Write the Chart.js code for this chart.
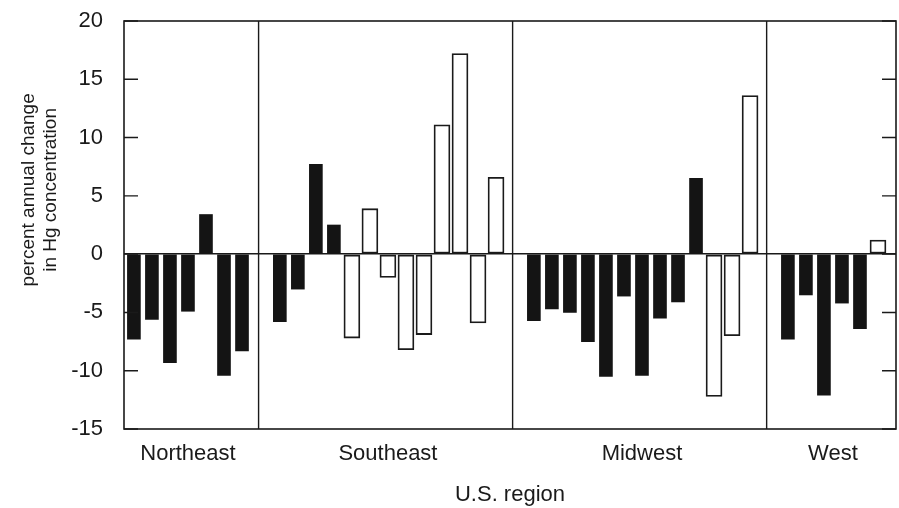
<!DOCTYPE html>
<html><head><meta charset="utf-8">
<script src="https://cdn.jsdelivr.net/npm/chart.js@4/dist/chart.umd.min.js"></script>
<style>html,body{margin:0;padding:0;background:#fff}</style>
</head><body>
<canvas id="c" width="899" height="508"></canvas>
<script>
// ---- data ----
const regions = ['Northeast', 'Southeast', 'Midwest', 'West'];
const neValues = [-7.3, -5.6, -9.3, -4.9, 3.4, -10.4, -8.3];
const neOpen   = [0, 0, 0, 0, 0, 0, 0];
const seValues = [-5.8, -3.0, 7.7, 2.5, -7.2, 3.9, -2.0, -8.2, -6.9, 11.1, 17.2, -5.9, 6.6];
const seOpen   = [0, 0, 0, 0, 1, 1, 1, 1, 1, 1, 1, 1, 1];
const mwValues = [-5.7, -4.7, -5.0, -7.5, -10.5, -3.6, -10.4, -5.5, -4.1, 6.5, -12.2, -7.0, 13.6];
const mwOpen   = [0, 0, 0, 0, 0, 0, 0, 0, 0, 0, 1, 1, 1];
const wValues  = [-7.3, -3.5, -12.1, -4.2, -6.4, 1.2];
const wOpen    = [0, 0, 0, 0, 0, 1];
const yTicks = [-15, -10, -5, 0, 5, 10, 15, 20];
const yTitleLines = ['percent annual change', 'in Hg concentration'];
const xTitle = 'U.S. region';

// ---- build bar series on an index axis (site order with a gap between regions) ----
const GAP = 2.1, SEP_OFFSET = 0.92;
const groups = [
  {values: neValues, open: neOpen},
  {values: seValues, open: seOpen},
  {values: mwValues, open: mwOpen},
  {values: wValues, open: wOpen}
];
const filledPts = [], openPts = [], centers = [], seps = [];
let xi = 0;
groups.forEach((g, gi) => {
  if (gi > 0) { seps.push(xi - 1 + SEP_OFFSET); xi += GAP - 1; }
  const start = xi;
  g.values.forEach((v, i) => { (g.open[i] ? openPts : filledPts).push({x: xi, y: v}); xi += 1; });
  centers.push((start + xi - 1) / 2);
});
const xMin = -0.55, xMax = xi;

const FONT = '"Liberation Sans", Arial, Helvetica, sans-serif';
const INK = '#1a1a1a';
Chart.defaults.font.family = FONT;
Chart.defaults.color = INK;

const framePlugin = {
  id: 'frame',
  afterDraw(chart) {
    const {ctx, chartArea: {left, right, top, bottom}, scales: {x, y}} = chart;
    ctx.save();
    ctx.strokeStyle = INK;
    ctx.lineWidth = 1.6;
    ctx.strokeRect(left, top, right - left, bottom - top);
    ctx.lineWidth = 1.4;
    seps.forEach(s => {
      const px = x.getPixelForValue(s);
      ctx.beginPath(); ctx.moveTo(px, top); ctx.lineTo(px, bottom); ctx.stroke();
    });
    yTicks.forEach(v => {
      const py = y.getPixelForValue(v);
      ctx.beginPath();
      ctx.moveTo(left, py); ctx.lineTo(left + 14, py);
      ctx.moveTo(right, py); ctx.lineTo(right - 14, py);
      ctx.stroke();
    });
    // y-axis title (two lines, rotated)
    ctx.fillStyle = INK;
    ctx.font = '19px ' + FONT;
    ctx.textAlign = 'center';
    ctx.textBaseline = 'middle';
    const cy = top + (bottom - top) * 0.414;
    [29, 50.5].forEach((cx, i) => {
      ctx.save();
      ctx.translate(cx, cy);
      ctx.rotate(-Math.PI / 2);
      ctx.fillText(yTitleLines[i], 0, 0);
      ctx.restore();
    });
    ctx.restore();
  }
};

new Chart(document.getElementById('c'), {
  type: 'bar',
  data: {
    datasets: [
      {data: filledPts, backgroundColor: '#141414', borderWidth: 0, barThickness: 13, grouped: false},
      {data: openPts, backgroundColor: '#ffffff', borderColor: INK, borderWidth: 1.8,
       borderSkipped: false, barThickness: 16, grouped: false}
    ]
  },
  options: {
    responsive: false,
    animation: false,
    devicePixelRatio: 1,
    layout: {padding: {top: 21, right: 3, bottom: 0, left: 0}},
    plugins: {legend: {display: false}, tooltip: {enabled: false}},
    scales: {
      x: {
        type: 'linear',
        offset: false,
        min: xMin, max: xMax,
        grid: {display: false},
        border: {display: false},
        afterBuildTicks: s => { s.ticks = centers.map(v => ({value: v})); },
        afterFit: s => { s.height = 79; s.paddingLeft = 0; s.paddingRight = 0; },
        ticks: {
          autoSkip: false, maxRotation: 0, minRotation: 0,
          font: {size: 22}, color: INK, padding: 4,
          callback: (v, i) => regions[i]
        },
        title: {display: true, text: xTitle, font: {size: 22}, color: INK, padding: {top: 0, bottom: 0}}
      },
      y: {
        min: -15, max: 20,
        afterBuildTicks: s => { s.ticks = yTicks.map(v => ({value: v})); },
        afterFit: s => { s.width = 124; s.paddingTop = 0; s.paddingBottom = 0; },
        grid: {
          drawTicks: false,
          lineWidth: 1.6,
          color: c => (c.tick && c.tick.value === 0) ? INK : 'rgba(0,0,0,0)'
        },
        border: {display: false},
        ticks: {font: {size: 22}, color: INK, padding: 21}
      }
    }
  },
  plugins: [framePlugin]
});
</script>
</body></html>
